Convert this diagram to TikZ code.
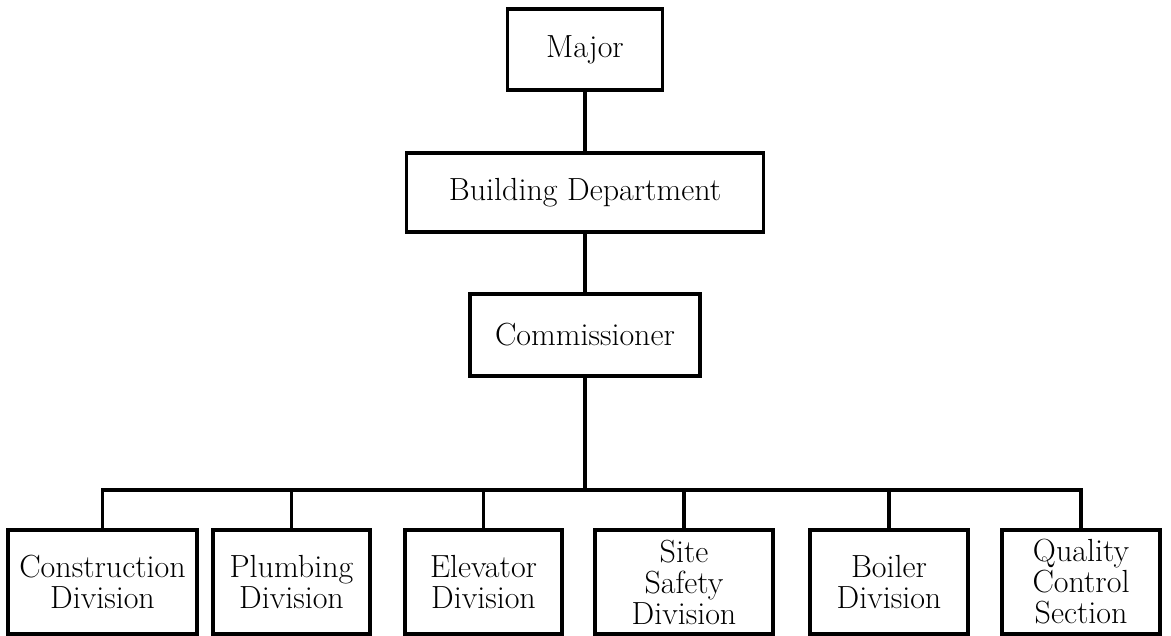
\documentclass[tikz,border=0pt]{standalone}
\begin{document}
\begin{tikzpicture}[x=0.5pt,y=-0.5pt,line width=1.7pt,
    blok/.style={draw,rectangle,align=center,inner sep=0pt,
      font=\fontsize{16}{15.5}\selectfont}]
  \useasboundingbox (0,0) rectangle (1171,636);

  % bovenste blokken
  \node[blok,minimum width=77.5pt,minimum height=40.5pt] (major) at (585,49.5) {Major};
  \node[blok,minimum width=178.5pt,minimum height=39.5pt] (bdept) at (585,192.5) {Building Department};
  \node[blok,minimum width=115pt,minimum height=41pt] (comm) at (585,335) {Commissioner};

  % verticale lijnen
  \draw (major) -- (bdept);
  \draw (bdept) -- (comm);

  % onderste rij met divisies, elk aan de horizontale lijn
  \coordinate (bus) at (585,490);
  \draw (comm.south) -- (bus);
  \foreach \naam/\x/\w/\tekst in {constr/102.5/94.5/{Construction\\Division},
      plumb/291.5/78.5/{Plumbing\\Division},
      elev/483.5/78.5/{Elevator\\Division},
      site/684/89/{Site\\Safety\\Division},
      boiler/889/79/{Boiler\\Division},
      qcs/1081/79/{Quality\\Control\\Section}} {
    \node[blok,minimum width=\w pt,minimum height=52pt] (\naam) at (\x,582) {\tekst};
    \draw (bus) -| (\naam.north);
  }
\end{tikzpicture}
\end{document}
